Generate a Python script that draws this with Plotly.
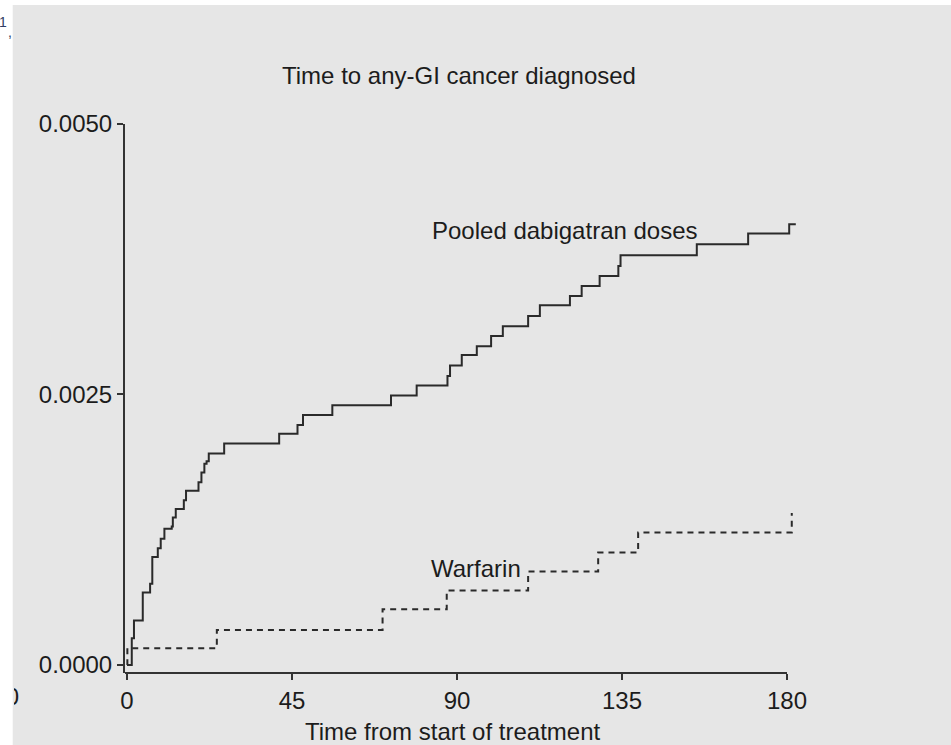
import plotly.graph_objects as go

# ---- data ----
dab_days = [0, 1.3, 1.9, 4.3, 6.3, 6.9, 8.4, 9.2, 10.2, 12.2, 12.5, 13.3, 15.5, 16.1,
            19.5, 20.3, 21.1, 21.7, 22.3, 26.5, 41.5, 46.5, 48.0, 56.0, 72.0, 79.0,
            87.4, 88.1, 91.3, 95.4, 99.3, 102.5, 109.4, 112.6, 120.8, 124.0, 128.9,
            134.0, 134.6, 155.4, 169.4, 180.6, 182.4]
dab_vals = [0, 0.000247, 0.000410, 0.000670, 0.000750, 0.000997, 0.00108, 0.001167,
            0.001259, 0.00128, 0.001364, 0.001441, 0.001522, 0.001611, 0.001688,
            0.00178, 0.001861, 0.001882, 0.001954, 0.002046, 0.002136, 0.002218,
            0.00231, 0.002401, 0.002491, 0.002583, 0.00267, 0.002768, 0.002864,
            0.002947, 0.00304, 0.00313, 0.003225, 0.003324, 0.00341, 0.003503,
            0.003595, 0.003688, 0.003787, 0.003889, 0.003988, 0.004074, 0.004074]

war_days = [0, 0.1, 24.5, 69.7, 87.2, 109.4, 128.5, 139.4, 181.3]
war_vals = [0, 0.000155, 0.000324, 0.000516, 0.000688, 0.000864, 0.00104, 0.001225, 0.001404]

x_ticks = [0, 45, 90, 135, 180]
y_ticks = [0, 0.0025, 0.005]
y_ticktext = ["0.0000", "0.0025", "0.0050"]

title_text = "Time to any-GI cancer diagnosed"
x_title = "Time from start of treatment"
label_dab = "Pooled dabigatran doses"
label_war = "Warfarin"

# ---- layout geometry ----
W, H = 951, 745
L, R, T, B = 125, 149, 124, 72
PW = W - L - R
PH = H - T - B
XR = [-0.545, 184.09]
YR = [-0.0000741, 0.005]
FONT = "Liberation Sans, Arial, Helvetica, sans-serif"
TXT = "#1c1c1c"
LINE = "#333333"
BG = "#e6e6e6"


def px_x(px):
    return (px - L) / PW


def px_y(py):
    return (H - B - py) / PH


fig = go.Figure()
fig.add_trace(go.Scatter(x=dab_days, y=dab_vals, mode="lines", line_shape="hv",
                         line=dict(color="#2a2a2a", width=2), name=label_dab,
                         showlegend=False))
fig.add_trace(go.Scatter(x=war_days, y=war_vals, mode="lines", line_shape="hv",
                         line=dict(color="#2a2a2a", width=2, dash="6px,5px"),
                         name=label_war, showlegend=False))

fig.update_layout(
    width=W, height=H, autosize=False,
    margin=dict(l=L, r=R, t=T, b=B, pad=0),
    paper_bgcolor=BG, plot_bgcolor="rgba(0,0,0,0)",
    font=dict(family=FONT, size=24, color=TXT),
    title=dict(text=title_text, x=459 / W, xanchor="center", xref="container",
               y=1 - 76 / H, yanchor="middle", yref="container",
               font=dict(family=FONT, size=24, color=TXT)),
    xaxis=dict(range=XR, tickvals=x_ticks, ticks="outside", ticklen=6,
               tickwidth=1.5, tickcolor=LINE, showline=False, showgrid=False,
               zeroline=False, tickfont=dict(family=FONT, size=24, color=TXT)),
    yaxis=dict(range=YR, tickvals=y_ticks, ticktext=y_ticktext,
               ticks="outside", ticklen=6, tickwidth=1.5, tickcolor=LINE,
               showline=True, linecolor=LINE, linewidth=2, showgrid=False,
               zeroline=False, tickfont=dict(family=FONT, size=24, color=TXT)),
)

# x axis line only up to 180
fig.add_shape(type="line", xref="x", yref="paper", x0=XR[0], x1=180, y0=0, y1=0,
              line=dict(color=LINE, width=2))
# white top and left strips (outside the grey panel)
fig.add_shape(type="rect", xref="paper", yref="paper", x0=px_x(0), x1=px_x(W),
              y0=px_y(0), y1=px_y(5), fillcolor="white", line=dict(width=0),
              layer="above")
fig.add_shape(type="rect", xref="paper", yref="paper", x0=px_x(0), x1=px_x(12.7),
              y0=px_y(0), y1=px_y(H), fillcolor="white", line=dict(width=0),
              layer="above")

annotations = [
    dict(text=label_dab, x=82.5, y=0.004018, xref="x", yref="y", xanchor="left",
         yanchor="middle", showarrow=False, font=dict(family=FONT, size=24, color=TXT)),
    dict(text=label_war, x=82.3, y=0.000895, xref="x", yref="y", xanchor="left",
         yanchor="middle", showarrow=False, font=dict(family=FONT, size=24, color=TXT)),
    dict(text=x_title, x=px_x(453), y=px_y(731), xref="paper", yref="paper",
         xanchor="center", yanchor="middle", showarrow=False,
         font=dict(family=FONT, size=24, color=TXT)),
    # clipped "0" fragment at the left edge of the grey panel
    dict(text="0", x=px_x(12.7), y=px_y(696), xref="paper", yref="paper",
         xanchor="left", yanchor="middle", showarrow=False, width=5, align="right",
         borderpad=0, font=dict(family=FONT, size=24, color=TXT)),
    dict(text="1", x=px_x(3), y=px_y(22), xref="paper", yref="paper",
         xanchor="center", yanchor="middle", showarrow=False, borderpad=0,
         font=dict(family=FONT, size=14, color="#2f3d63")),
    dict(text=",", x=px_x(9.5), y=px_y(32), xref="paper", yref="paper",
         xanchor="center", yanchor="middle", showarrow=False, borderpad=0,
         font=dict(family=FONT, size=14, color="#2f3d63")),
]
fig.update_layout(annotations=annotations)

fig.write_html("out.html")
